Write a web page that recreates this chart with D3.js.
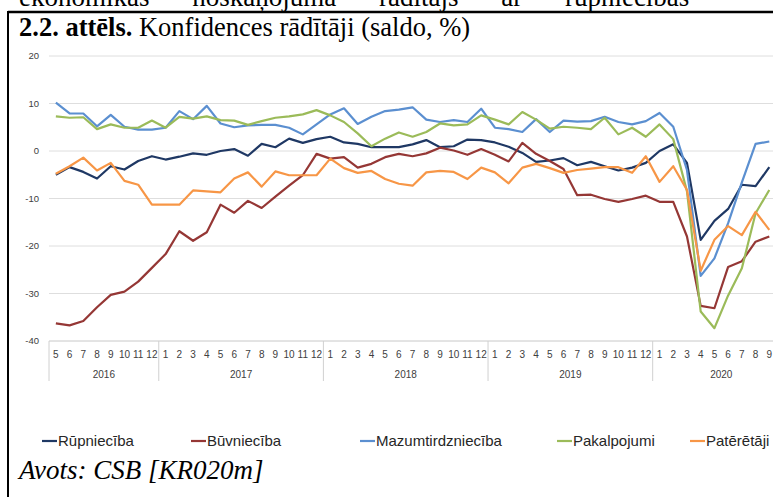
<!DOCTYPE html>
<html>
<head>
<meta charset="utf-8">
<script src="https://cdn.jsdelivr.net/npm/d3@7"></script>
<style>
body { margin: 0; background: #fff; }
svg text { font-family: "Liberation Sans", Arial, sans-serif; }
svg text.serif { font-family: "Liberation Serif", "Times New Roman", serif; }
</style>
</head>
<body>
<div id="chart"></div>
<script>
// month labels, 2016-5 .. 2020-10 (last one falls off the page)
var months = ["5","6","7","8","9","10","11","12",
  "1","2","3","4","5","6","7","8","9","10","11","12",
  "1","2","3","4","5","6","7","8","9","10","11","12",
  "1","2","3","4","5","6","7","8","9","10","11","12",
  "1","2","3","4","5","6","7","8","9","10"];
var years = ["2016","2017","2018","2019","2020"];
var yTicks = [20, 10, 0, -10, -20, -30, -40];

var seriesNames = ["Rūpniecība","Būvniecība","Mazumtirdzniecība","Pakalpojumi","Patērētāji"];
var seriesColors = ["#1f3864","#953735","#5b8fd0","#9bbb59","#f79646"];

var rupnieciba = [-5.0,-3.4,-4.4,-5.8,-3.2,-3.9,-2.1,-1.1,
  -1.8,-1.2,-0.5,-0.8,0.0,0.4,-1.0,1.5,0.8,2.6,1.7,2.5,
  3.0,1.8,1.5,0.8,0.8,0.8,1.4,2.3,0.8,1.0,2.4,2.3,
  1.8,0.9,-0.4,-2.3,-2.0,-1.5,-3.0,-2.3,-3.2,-4.1,-3.5,-2.5,
  0.0,1.4,-2.5,-18.7,-14.7,-12.2,-7.1,-7.4,-3.4];
var buvnieciba = [-36.3,-36.7,-35.8,-32.9,-30.3,-29.6,-27.5,-24.6,
  -21.7,-16.9,-18.9,-17.1,-11.3,-13.0,-10.5,-12.0,-9.6,-7.3,-5.1,-0.6,
  -1.6,-1.3,-3.5,-2.7,-1.3,-0.6,-1.1,-0.5,0.7,0.1,-0.8,0.4,
  -0.8,-2.2,1.7,-0.6,-2.1,-3.8,-9.3,-9.2,-10.1,-10.7,-10.1,-9.4,
  -10.7,-10.7,-18.0,-32.6,-33.1,-24.4,-23.2,-19.1,-18.0];
var mazumtirdznieciba = [10.2,7.9,7.9,5.2,7.6,5.1,4.5,4.5,
  4.9,8.4,6.7,9.5,5.8,5.0,5.4,5.5,5.5,4.9,3.5,5.6,
  7.7,9.0,5.7,7.2,8.4,8.7,9.2,6.6,6.1,6.5,6.1,8.9,
  4.9,4.6,4.0,6.7,4.0,6.4,6.2,6.3,7.2,6.1,5.6,6.3,
  8.0,5.1,-4.0,-26.3,-22.6,-15.2,-6.6,1.5,2.0];
var pakalpojumi = [7.3,7.0,7.1,4.6,5.6,4.9,4.9,6.4,
  4.9,7.2,6.8,7.3,6.5,6.4,5.5,6.3,7.0,7.3,7.7,8.6,
  7.5,6.1,3.7,1.0,2.6,3.9,3.0,4.0,5.8,5.4,5.6,7.5,
  6.6,5.6,8.2,6.6,4.7,5.1,4.9,4.6,7.0,3.5,4.9,3.0,
  5.6,2.5,-8.5,-33.8,-37.3,-30.4,-24.7,-13.1,-8.2];
var pateretaji = [-4.8,-3.2,-1.4,-4.1,-2.5,-6.3,-7.1,-11.3,
  -11.3,-11.3,-8.3,-8.5,-8.7,-5.8,-4.5,-7.5,-4.3,-5.1,-5.1,-5.1,
  -1.6,-3.6,-4.6,-4.2,-5.9,-6.9,-7.3,-4.5,-4.2,-4.4,-5.9,-3.5,
  -4.5,-6.8,-3.5,-2.7,-3.6,-4.6,-4.0,-3.7,-3.4,-3.4,-4.6,-1.1,
  -6.5,-3.2,-8.2,-25.2,-18.7,-15.8,-17.7,-12.8,-16.6];

var seriesValues = [rupnieciba, buvnieciba, mazumtirdznieciba, pakalpojumi, pateretaji];

var width = 773, height = 497;
var plotLeft = 49, plotTop = 56, plotBottom = 341, step = 13.72;

var svg = d3.select("#chart").append("svg")
  .attr("width", width)
  .attr("height", height);

// page frame (document table cell), previous paragraph cut at the top
svg.append("text").attr("class", "serif")
  .attr("x", 19).attr("y", 6)
  .attr("font-size", 27)
  .attr("word-spacing", 36)
  .attr("fill", "#000")
  .text("ekonomikas noskaņojuma rādītājs ar rūpniecības");
svg.append("line").attr("x1", 8).attr("x2", width).attr("y1", 12).attr("y2", 12)
  .attr("stroke", "#000").attr("stroke-width", 2.5);
svg.append("line").attr("x1", 8).attr("x2", 8).attr("y1", 11).attr("y2", height)
  .attr("stroke", "#000").attr("stroke-width", 2);

var title = svg.append("text").attr("class", "serif")
  .attr("x", 19).attr("y", 36)
  .attr("font-size", 26.5).attr("fill", "#000");
title.append("tspan").attr("font-weight", "bold").text("2.2. attēls.");
title.append("tspan").text(" Konfidences rādītāji (saldo, %)");

// scales
var x = d3.scaleBand()
  .domain(d3.range(months.length))
  .range([plotLeft, plotLeft + months.length * step]);
var y = d3.scaleLinear().domain([-40, 20]).range([plotBottom, plotTop]);

// gridlines
svg.append("g").selectAll("line").data(yTicks).enter().append("line")
  .attr("x1", plotLeft).attr("x2", x.range()[1])
  .attr("y1", function(d) { return y(d); })
  .attr("y2", function(d) { return y(d); })
  .attr("stroke", function(d) { return d === -40 ? "#c8c8c8" : "#dedede"; })
  .attr("stroke-width", 1);

svg.append("g").selectAll("text").data(yTicks).enter().append("text")
  .attr("x", 39)
  .attr("y", function(d) { return y(d); })
  .attr("dy", "0.35em")
  .attr("text-anchor", "end")
  .attr("font-size", 9.5)
  .attr("fill", "#404040")
  .text(function(d) { return d; });

// category axis: months (only those on the page) + years
var monthIdx = d3.range(months.length).filter(function(i) {
  return x(i) + x.bandwidth() / 2 < width;
});
svg.append("g").selectAll("text").data(monthIdx).enter().append("text")
  .attr("x", function(i) { return x(i) + x.bandwidth() / 2; })
  .attr("y", 358)
  .attr("text-anchor", "middle")
  .attr("font-size", 10)
  .attr("fill", "#404040")
  .text(function(i) { return months[i]; });

var groups = [];
months.forEach(function(m, i) {
  if (i === 0 || m === "1") groups.push({ start: i, end: i });
  else groups[groups.length - 1].end = i;
});
groups.forEach(function(g, k) { g.year = years[k]; });

svg.append("g").selectAll("line").data(groups).enter().append("line")
  .attr("x1", function(d) { return x(d.start); })
  .attr("x2", function(d) { return x(d.start); })
  .attr("y1", plotBottom).attr("y2", 381)
  .attr("stroke", "#d0d0d0");

svg.append("g").selectAll("text").data(groups).enter().append("text")
  .attr("x", function(d) { return (x(d.start) + x(d.end) + x.bandwidth()) / 2; })
  .attr("y", 378)
  .attr("text-anchor", "middle")
  .attr("font-size", 10)
  .attr("fill", "#404040")
  .text(function(d) { return d.year; });

// lines
var line = d3.line()
  .x(function(d, i) { return x(i) + x.bandwidth() / 2; })
  .y(function(d) { return y(d); });

svg.append("g").selectAll("path").data(seriesValues).enter().append("path")
  .attr("d", line)
  .attr("fill", "none")
  .attr("stroke", function(d, i) { return seriesColors[i]; })
  .attr("stroke-width", 2.2)
  .attr("stroke-linejoin", "round");

// legend
var legendX = [42, 191, 360, 557, 690];
var legend = svg.append("g").selectAll("g").data(seriesNames).enter().append("g")
  .attr("transform", function(d, i) { return "translate(" + legendX[i] + ",441)"; });
legend.append("line")
  .attr("x1", 0).attr("x2", 15)
  .attr("stroke", function(d, i) { return seriesColors[i]; })
  .attr("stroke-width", 2.2);
legend.append("text")
  .attr("x", 16).attr("dy", "0.35em")
  .attr("font-size", 15)
  .attr("fill", "#262626")
  .text(function(d) { return d; });

svg.append("text").attr("class", "serif")
  .attr("x", 19).attr("y", 479)
  .attr("font-size", 27)
  .attr("font-style", "italic")
  .attr("fill", "#000")
  .text("Avots: CSB [KR020m]");
</script>
</body>
</html>
